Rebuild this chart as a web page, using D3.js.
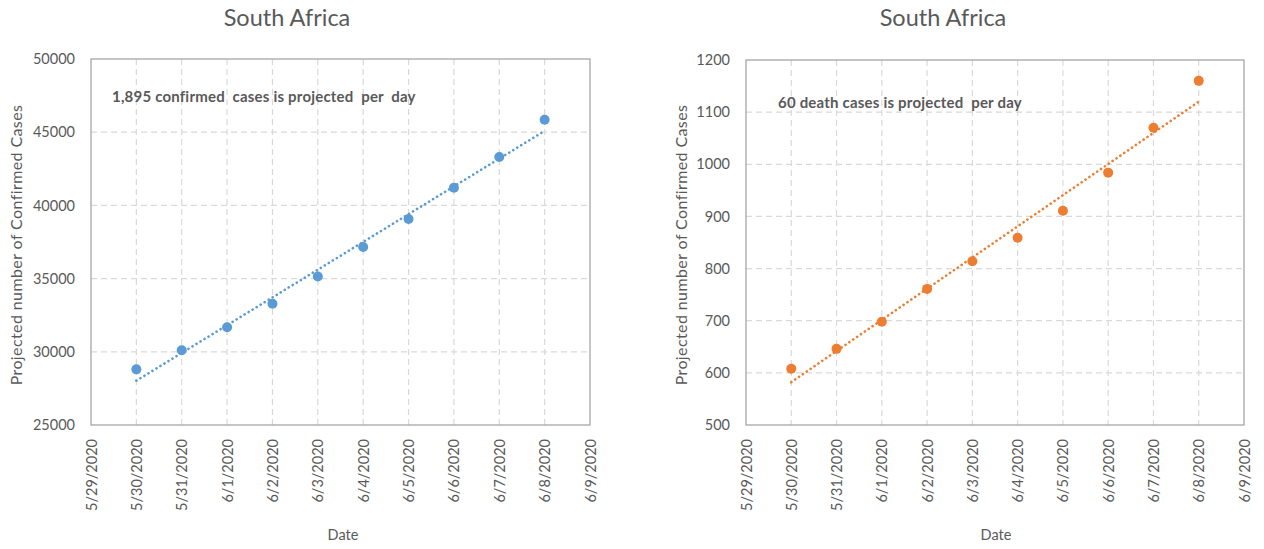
<!DOCTYPE html>
<html>
<head>
<meta charset="utf-8">
<script src="https://cdn.jsdelivr.net/npm/d3@7"></script>
<style>
  html, body { margin: 0; padding: 0; background: #ffffff; }
  svg { display: block; }
  text { font-family: Lato, "Open Sans", sans-serif; fill: #595959; }
</style>
</head>
<body>
<svg id="chart" width="1264" height="549"></svg>
<script>
// Projection period and axis extent
const axisStart = "5/29/2020";
const axisEnd = "6/9/2020";
const projectionDates = ["5/30/2020", "5/31/2020", "6/1/2020", "6/2/2020", "6/3/2020",
                         "6/4/2020", "6/5/2020", "6/6/2020", "6/7/2020", "6/8/2020"];

// Projected cumulative counts for South Africa
const confirmedCases = [28800, 30100, 31680, 33280, 35140, 37160, 39070, 41200, 43300, 45850];
const deathCases = [608, 646, 698, 761, 814, 859, 911, 984, 1070, 1160];

// Value-axis ticks
const confirmedTicks = [25000, 30000, 35000, 40000, 45000, 50000];
const deathTicks = [500, 600, 700, 800, 900, 1000, 1100, 1200];

// Annotation texts
const confirmedNote = "1,895 confirmed  cases is projected  per  day";
const deathNote = "60 death cases is projected  per day";

const parseDate = d3.timeParse("%m/%d/%Y");
const formatDate = d3.timeFormat("%-m/%-d/%Y");

const svg = d3.select("#chart");

// Least-squares linear fit of values against day index
function linearFit(values) {
  const xs = values.map((_, i) => i);
  const mx = d3.mean(xs), my = d3.mean(values);
  const sxy = d3.sum(xs, (x, i) => (x - mx) * (values[i] - my));
  const sxx = d3.sum(xs, x => (x - mx) * (x - mx));
  const slope = sxy / sxx;
  const intercept = my - slope * mx;
  return { slope, intercept, at: i => intercept + slope * i };
}

function drawPanel(opts) {
  const g = svg.append("g");
  const dates = projectionDates.map(parseDate);

  const x = d3.scaleTime()
    .domain([parseDate(axisStart), parseDate(axisEnd)])
    .range([opts.left, opts.right]);
  const y = d3.scaleLinear()
    .domain(d3.extent(opts.ticks))
    .range([opts.bottom, opts.top]);

  const dayTicks = d3.timeDay.range(parseDate(axisStart), d3.timeDay.offset(parseDate(axisEnd), 1));

  // Dashed gridlines
  g.append("g")
    .selectAll("line")
    .data(opts.ticks.slice(1, -1))
    .join("line")
    .attr("x1", opts.left).attr("x2", opts.right)
    .attr("y1", d => y(d)).attr("y2", d => y(d))
    .attr("stroke", "#d9d9d9").attr("stroke-width", 1.2)
    .attr("stroke-dasharray", "6 4");
  g.append("g")
    .selectAll("line")
    .data(dayTicks.slice(1, -1))
    .join("line")
    .attr("x1", d => x(d)).attr("x2", d => x(d))
    .attr("y1", opts.top).attr("y2", opts.bottom)
    .attr("stroke", "#d9d9d9").attr("stroke-width", 1.2)
    .attr("stroke-dasharray", "6 4");

  // Plot frame
  g.append("rect")
    .attr("x", opts.left).attr("y", opts.top)
    .attr("width", opts.right - opts.left).attr("height", opts.bottom - opts.top)
    .attr("fill", "none").attr("stroke", "#a6a6a6").attr("stroke-width", 1.3);

  // Value axis labels
  const yAxis = d3.axisLeft(y).tickValues(opts.ticks).tickSize(0).tickPadding(16)
    .tickFormat(d3.format("d"));
  const ya = g.append("g").attr("transform", `translate(${opts.left},0)`).call(yAxis);
  ya.select(".domain").remove();
  ya.selectAll("text").attr("fill", "#595959").style("font-size", "14.5px")
    .style("font-family", "Lato, sans-serif");

  // Date axis labels, rotated
  const xAxis = d3.axisBottom(x).tickValues(dayTicks).tickSize(0).tickFormat(formatDate);
  const xa = g.append("g").attr("transform", `translate(0,${opts.bottom})`).call(xAxis);
  xa.select(".domain").remove();
  xa.selectAll("text")
    .attr("fill", "#595959").style("font-size", "14.5px").style("font-family", "Lato, sans-serif")
    .attr("transform", "rotate(-90)")
    .attr("text-anchor", "end")
    .attr("x", -14).attr("y", 0).attr("dy", "0.35em");

  // Dotted linear trendline
  const fit = linearFit(opts.values);
  g.append("line")
    .attr("x1", x(dates[0])).attr("y1", y(fit.at(0)))
    .attr("x2", x(dates[dates.length - 1])).attr("y2", y(fit.at(dates.length - 1)))
    .attr("stroke", opts.color).attr("stroke-width", 2.6)
    .attr("stroke-linecap", "round").attr("stroke-dasharray", "0.1 4.6");

  // Data points
  g.append("g")
    .selectAll("circle")
    .data(opts.values)
    .join("circle")
    .attr("cx", (d, i) => x(dates[i]))
    .attr("cy", d => y(d))
    .attr("r", 5)
    .attr("fill", opts.color);

  // Titles
  g.append("text")
    .attr("x", opts.titleX).attr("y", 26)
    .attr("text-anchor", "middle")
    .style("font-size", "23.5px")
    .text("South Africa");

  g.append("text")
    .attr("transform", `translate(${opts.yTitleX},245) rotate(-90)`)
    .attr("text-anchor", "middle")
    .style("font-size", "16px")
    .style("letter-spacing", "0.4px")
    .text("Projected number of Confirmed Cases");

  g.append("text")
    .attr("x", opts.dateX).attr("y", 540)
    .attr("text-anchor", "middle")
    .style("font-size", "14.5px")
    .text("Date");

  g.append("text")
    .attr("x", opts.noteX).attr("y", opts.noteY)
    .style("font-size", "15px").style("font-weight", "bold")
    .style("white-space", "pre")
    .style("letter-spacing", "0.2px")
    .attr("fill", "#595959")
    .text(opts.note);
}

drawPanel({
  values: confirmedCases, ticks: confirmedTicks, color: "#5b9bd5",
  left: 91, right: 590, top: 59, bottom: 425,
  titleX: 287, yTitleX: 22, dateX: 343,
  note: confirmedNote, noteX: 112, noteY: 102
});

drawPanel({
  values: deathCases, ticks: deathTicks, color: "#ed7d31",
  left: 746, right: 1244, top: 60, bottom: 425,
  titleX: 943, yTitleX: 687, dateX: 996,
  note: deathNote, noteX: 778, noteY: 108
});
</script>
</body>
</html>
